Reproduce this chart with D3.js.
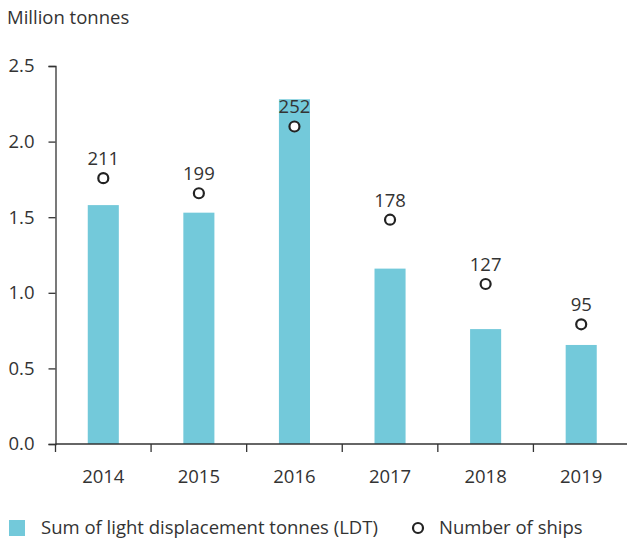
<!DOCTYPE html>
<html>
<head>
<meta charset="utf-8">
<title>Ships and LDT</title>
<script src="https://d3js.org/d3.v7.min.js"></script>
<style>
  body { margin: 0; background: #fff; }
  text { font-family: "Open Sans", sans-serif; fill: #333; }
</style>
</head>
<body>
<div id="chart"></div>
<script>
// ---- data ----
const years = ["2014", "2015", "2016", "2017", "2018", "2019"];
const ldt = [1.58, 1.53, 2.28, 1.16, 0.76, 0.655];   // million tonnes
const ships = [211, 199, 252, 178, 127, 95];        // number of ships
const yTicks = [0, 0.5, 1.0, 1.5, 2.0, 2.5];

// ---- layout ----
const width = 627, height = 539;
const plotLeft = 55.5, plotRight = 629, plotTop = 66, plotBottom = 444;
const fs = 18.5;

const svg = d3.select("#chart").append("svg")
    .attr("width", width)
    .attr("height", height);

const x = d3.scaleBand().domain(years).range([plotLeft, plotRight]).paddingInner(0.675).paddingOuter(0.3375);
const y = d3.scaleLinear().domain([0, 2.5]).range([plotBottom, plotTop]);
// ships share the plot with a hidden scale (300 ships = top)
const y2 = d3.scaleLinear().domain([0, 300]).range([plotBottom, plotTop]);

// bars
svg.append("g").selectAll("rect")
    .data(years)
    .join("rect")
    .attr("x", d => x(d))
    .attr("y", (d, i) => y(ldt[i]))
    .attr("width", x.bandwidth())
    .attr("height", (d, i) => plotBottom - y(ldt[i]))
    .attr("fill", "#73C9DA");

// y axis
const yAxis = svg.append("g")
    .attr("transform", `translate(${plotLeft},0)`)
    .call(d3.axisLeft(y).tickValues(yTicks).tickFormat(d3.format(".1f")).tickSize(7).tickPadding(14));
yAxis.select(".domain").attr("stroke", "#333").attr("stroke-width", 1.3);
yAxis.selectAll(".tick line").attr("stroke", "#333").attr("stroke-width", 1.3);
yAxis.selectAll(".tick text").attr("font-size", fs).attr("font-family", "Open Sans, sans-serif").attr("fill", "#333");

// x axis: ticks between categories
const xAxis = svg.append("g").attr("transform", `translate(0,${plotBottom})`);
xAxis.append("line")
    .attr("x1", plotLeft).attr("x2", width)
    .attr("stroke", "#333").attr("stroke-width", 1.3);
const step = x.step();
xAxis.selectAll(".sep")
    .data(years)
    .join("line")
    .attr("x1", (d, i) => plotLeft + i * step)
    .attr("x2", (d, i) => plotLeft + i * step)
    .attr("y1", 0).attr("y2", 8)
    .attr("stroke", "#333").attr("stroke-width", 1.3);
xAxis.selectAll(".lbl")
    .data(years)
    .join("text")
    .attr("x", d => x(d) + x.bandwidth() / 2)
    .attr("y", 39)
    .attr("text-anchor", "middle")
    .attr("font-size", fs)
    .text(d => d);

// ship markers
svg.append("g").selectAll("circle")
    .data(ships)
    .join("circle")
    .attr("cx", (d, i) => x(years[i]) + x.bandwidth() / 2)
    .attr("cy", d => y2(d))
    .attr("r", 5)
    .attr("fill", "#fff")
    .attr("stroke", "#222")
    .attr("stroke-width", 2.2);

svg.append("g").selectAll("text")
    .data(ships)
    .join("text")
    .attr("x", (d, i) => x(years[i]) + x.bandwidth() / 2)
    .attr("y", d => y2(d) - 13)
    .attr("text-anchor", "middle")
    .attr("font-size", fs)
    .text(d => d);

// unit label
svg.append("text")
    .attr("x", 7).attr("y", 24)
    .attr("font-size", fs)
    .text("Million tonnes");

// legend
const lg = svg.append("g");
lg.append("rect").attr("x", 9).attr("y", 520).attr("width", 16).attr("height", 16).attr("fill", "#73C9DA");
lg.append("text").attr("x", 41).attr("y", 534).attr("font-size", fs).text("Sum of light displacement tonnes (LDT)");
lg.append("circle").attr("cx", 418).attr("cy", 528).attr("r", 5)
    .attr("fill", "#fff").attr("stroke", "#222").attr("stroke-width", 2.2);
lg.append("text").attr("x", 439).attr("y", 534).attr("font-size", fs).text("Number of ships");
</script>
</body>
</html>
